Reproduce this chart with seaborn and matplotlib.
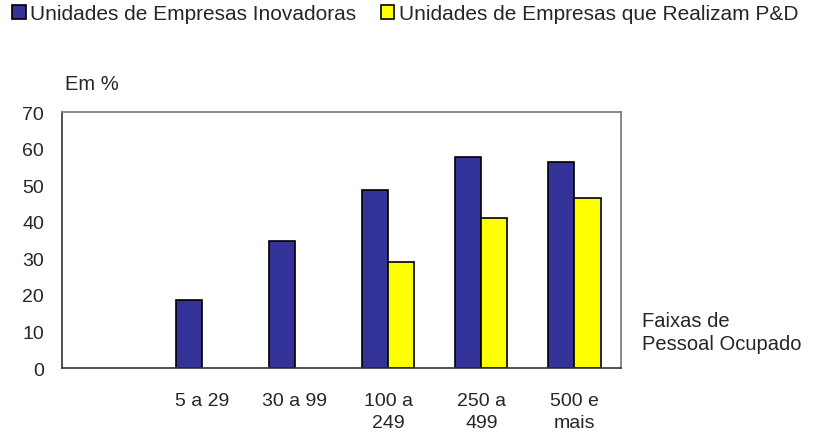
import numpy as np
import pandas as pd
import matplotlib
matplotlib.use("Agg")
import matplotlib.pyplot as plt
import seaborn as sns
from matplotlib.patches import Patch

# categorias (faixas de pessoal ocupado)
faixas = ["", "5 a 29", "30 a 99", "100 a\n249", "250 a\n499", "500 e\nmais"]
inovadoras = [np.nan, 18.5, 34.7, 48.8, 57.8, 56.2]
realizam_pd = [np.nan, np.nan, np.nan, 29.1, 41.0, 46.5]
series = ["Unidades de Empresas Inovadoras", "Unidades de Empresas que Realizam P&D"]
cores = ["#333399", "#FFFF00"]

sns.set_theme(style="white")
plt.rcParams["font.family"] = ["Liberation Sans", "DejaVu Sans"]

df = pd.DataFrame({
    "faixa": faixas * 2,
    "valor": inovadoras + realizam_pd,
    "serie": [series[0]] * len(faixas) + [series[1]] * len(faixas),
})

fig = plt.figure(figsize=(8.14, 4.39), dpi=100)
ax = fig.add_axes([62 / 814, 1 - 369 / 439, (621 - 62) / 814, (369 - 113) / 439])

sns.barplot(data=df, x="faixa", y="valor", hue="serie", order=faixas,
            hue_order=series, palette=cores, saturation=1, width=0.56, gap=0,
            edgecolor="black", linewidth=1.2, legend=False, ax=ax)

ax.set_xlim(-0.5, len(faixas) - 0.5)
ax.set_ylim(0, 70)
ax.set_yticks(range(0, 71, 10))
ax.set_xlabel("")
ax.set_ylabel("")

# ticks nas divisas das categorias, rotulos no centro
ax.set_xticks(np.arange(len(faixas)))
ax.set_xticklabels(faixas, fontsize=14, linespacing=1.45, va="top")
ax.set_xticks(np.arange(len(faixas) + 1) - 0.5, minor=True)
ax.tick_params(axis="x", which="major", length=0, pad=17)
ax.tick_params(axis="x", which="minor", length=5, width=1, color="black", direction="out")
ax.tick_params(axis="y", length=5, width=1, color="black", direction="out", labelsize=14, pad=8)

for s in ["top", "right"]:
    ax.spines[s].set_color("#808080")
    ax.spines[s].set_linewidth(1.3)
for s in ["left", "bottom"]:
    ax.spines[s].set_color("#333333")
    ax.spines[s].set_linewidth(1.2)

fig.text(65 / 814, 1 - 84 / 439, "Em %", fontsize=14.5, va="center", ha="left")
fig.text(642 / 814, 1 - 333 / 439, "Faixas de\nPessoal Ocupado", fontsize=14.5,
         va="center", ha="left", linespacing=1.25)

handles = [Patch(facecolor=c, edgecolor="black", linewidth=1.2) for c in cores]
fig.legend(handles, series, loc="upper left", bbox_to_anchor=(12 / 814, 1 - 5 / 439), ncol=2,
           frameon=False, fontsize=15, handlelength=0.65, handleheight=0.65,
           handletextpad=0.2, columnspacing=1.2, borderaxespad=0, borderpad=0)

fig.savefig("out.png", dpi=100)
